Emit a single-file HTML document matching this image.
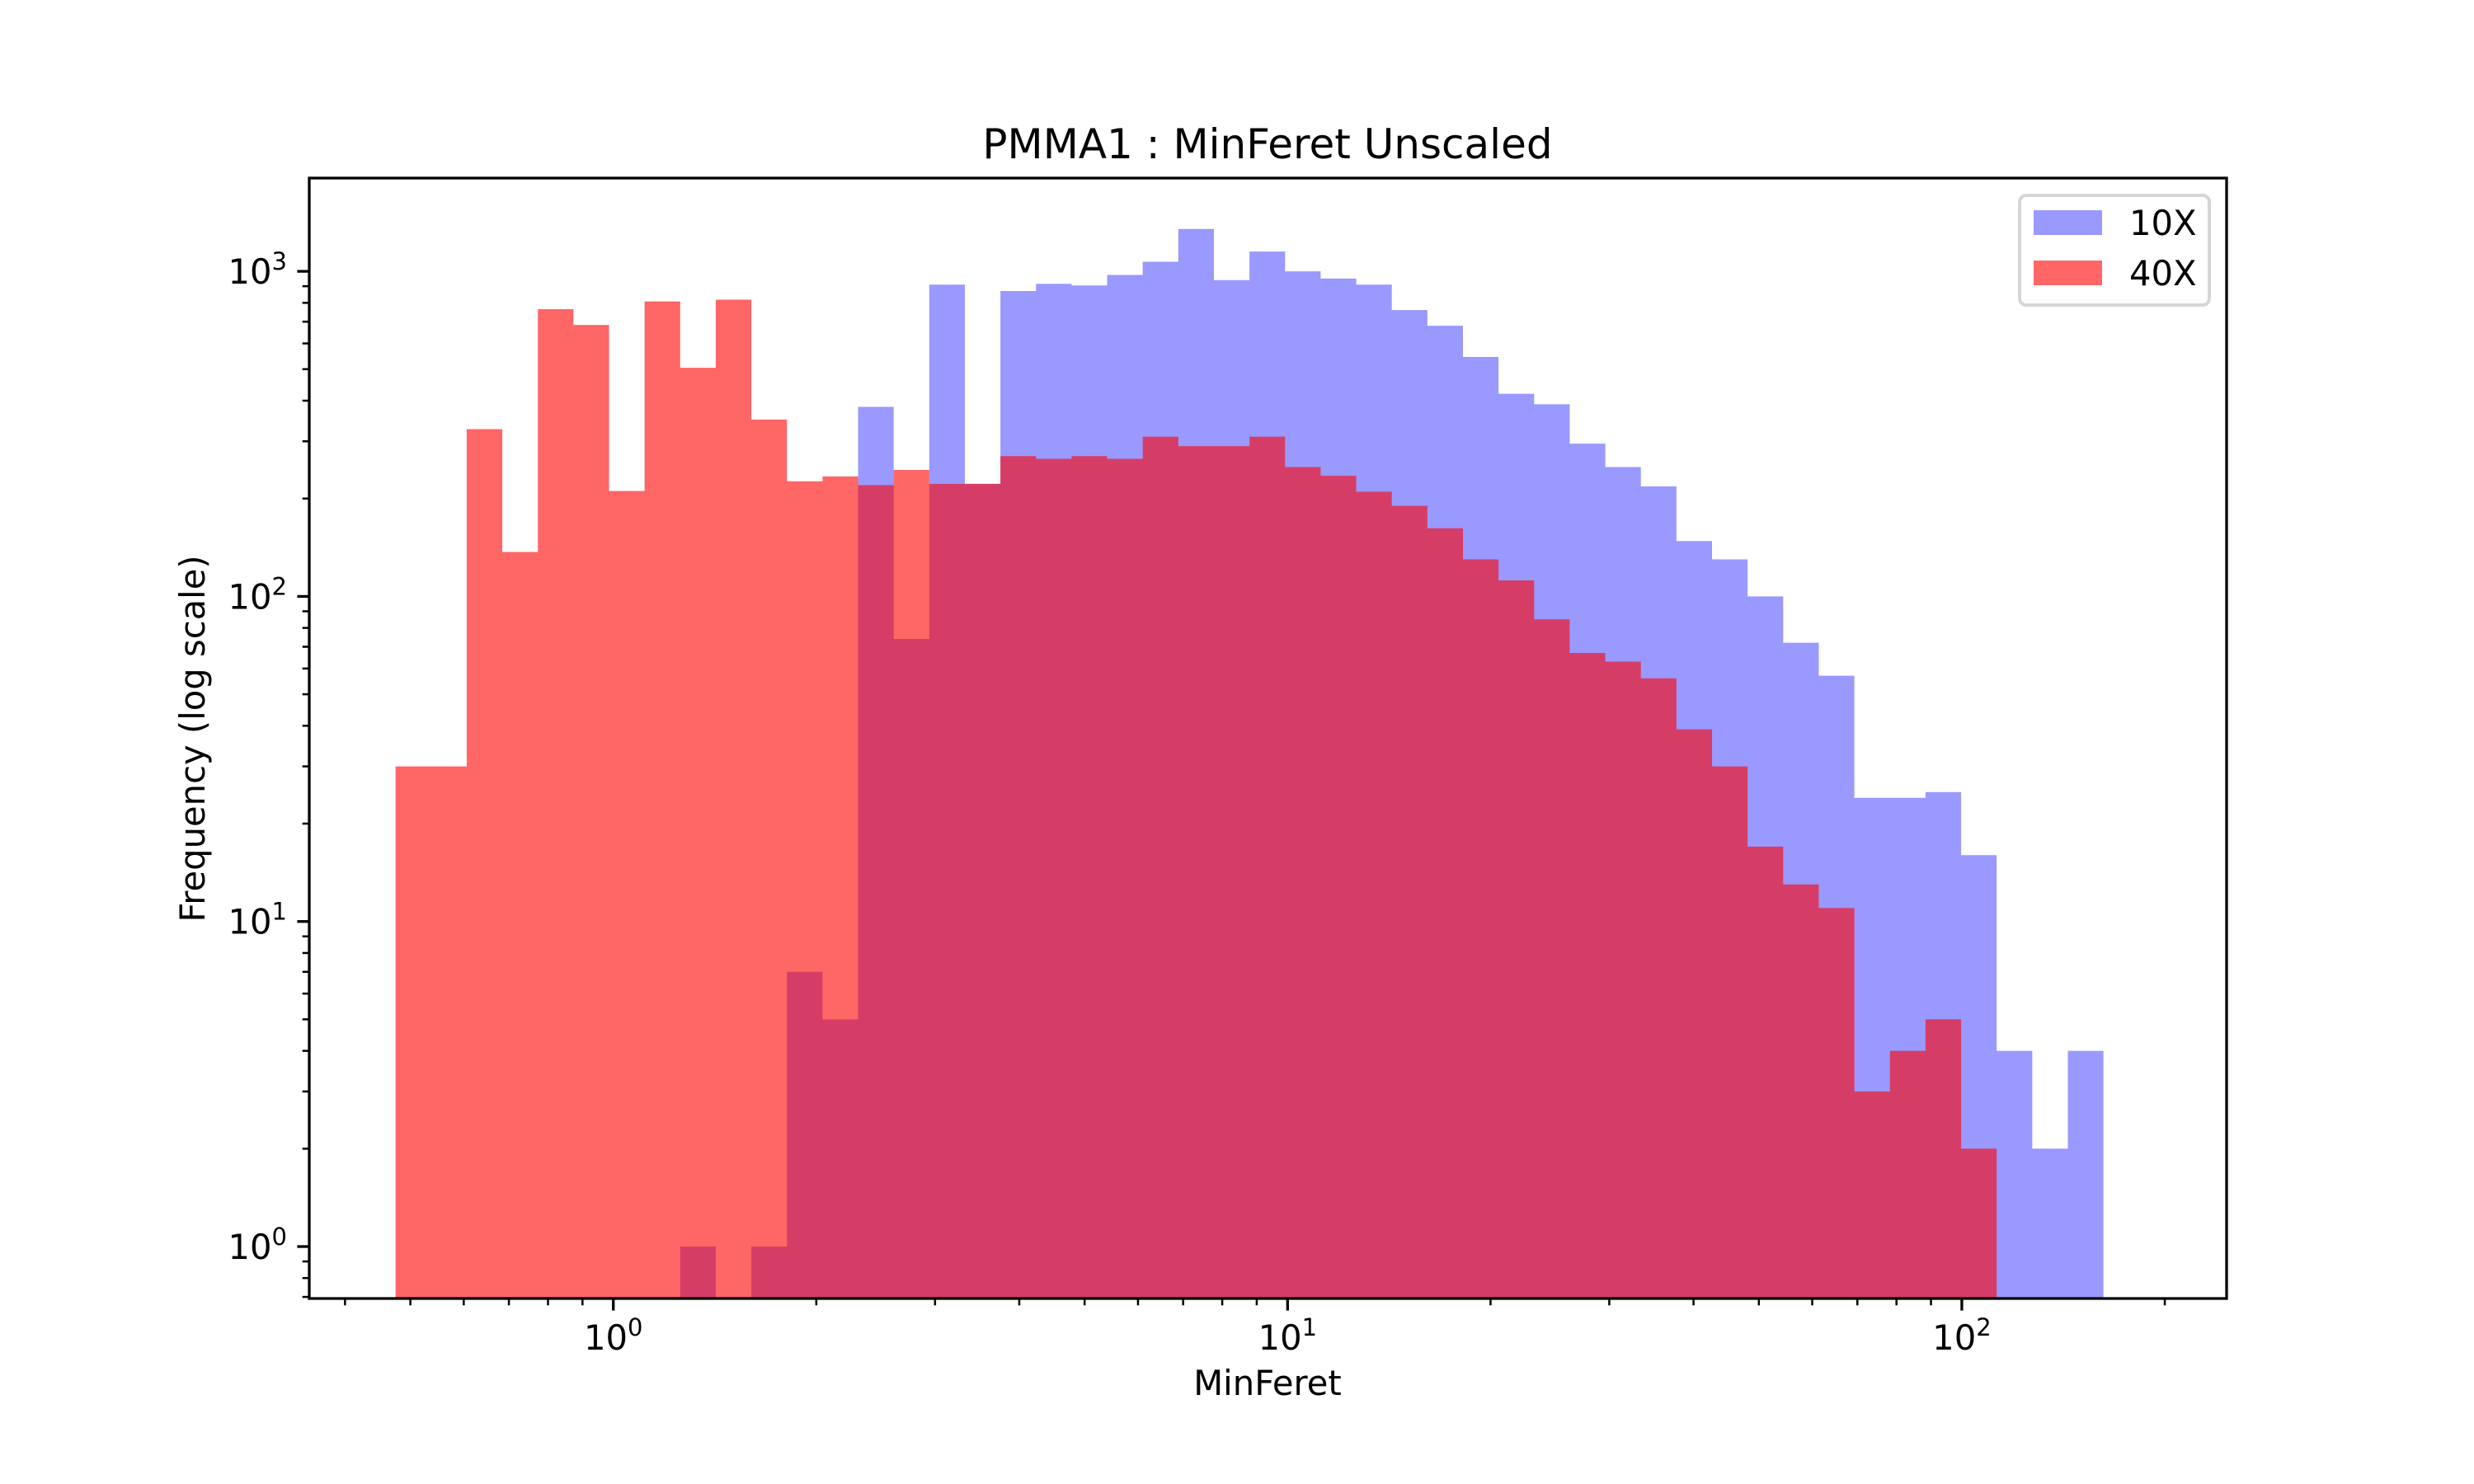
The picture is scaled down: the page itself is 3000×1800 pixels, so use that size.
<!DOCTYPE html>
<html><head><meta charset="utf-8"><style>
html,body{margin:0;padding:0;background:#fff;}
svg{display:block;font-family:"DejaVu Sans","Liberation Sans",sans-serif;}
</style></head><body>
<svg id="chart" width="3000" height="1800" viewBox="0 0 3000 1800" xmlns="http://www.w3.org/2000/svg">
<defs><clipPath id="clip"><rect x="375" y="216" width="2325" height="1359"/></clipPath></defs>
<rect width="3000" height="1800" fill="#fff"/>
<g id="bars" clip-path="url(#clip)"></g>
<g id="axes"></g>
<text x="1537" y="192" font-size="50" text-anchor="middle">PMMA1 : MinFeret Unscaled</text>
<text x="1537" y="1692" font-size="41.7" text-anchor="middle">MinFeret</text>
<text transform="translate(248,896) rotate(-90)" font-size="41.7" text-anchor="middle">Frequency (log scale)</text>
<g>
<rect x="2449" y="237" width="230" height="133" rx="8" fill="#fff" fill-opacity="0.8" stroke="#d6d6d6" stroke-width="4"/>
<rect x="2466" y="255" width="83" height="30" fill="#9999ff"/>
<text x="2582" y="285" font-size="41.7">10X</text>
<rect x="2466" y="316" width="83" height="30" fill="#ff6666"/>
<text x="2582" y="346" font-size="41.7">40X</text>
</g>
</svg>
<script>
const binLogMin = -0.323;
const binLogMax = 2.210;
const counts10x = [0,0,0,0,0,0,0,0,1,0,1,7,5,383,74,910,222,870,915,905,975,1070,1350,940,1150,1000,950,910,760,680,545,420,390,295,250,218,148,130,100,72,57,24,24,25,16,4,2,4];
const counts40x = [30,30,327,137,765,684,211,808,505,818,350,226,234,220,245,222,222,270,265,270,265,310,290,290,310,250,235,210,190,162,130,112,85,67,63,56,39,30,17,13,11,3,4,5,2,0,0,0];
const xTickExps = [0,1,2];
const yTickExps = [0,1,2,3];

const L=375,R=2700,T=216,B=1575;
const xl0=Math.log10(0.354), xl1=Math.log10(247);
const Y1=1512, DEC=394.3;
const xs=v=>L+(Math.log10(v)-xl0)/(xl1-xl0)*(R-L);
const ys=v=>Y1-Math.log10(v)*DEC;
const NS="http://www.w3.org/2000/svg";
const bars=document.getElementById('bars'), axes=document.getElementById('axes');
function mk(tag,attrs,parent){const e=document.createElementNS(NS,tag);for(const k in attrs)e.setAttribute(k,attrs[k]);parent.appendChild(e);return e;}
const nb=counts10x.length, w=(binLogMax-binLogMin)/nb;
function drawSeries(arr,color,op,name){
  let d='';
  arr.forEach((c,i)=>{
    if(c<=0)return;
    const x0=xs(Math.pow(10,binLogMin+i*w)), x1=xs(Math.pow(10,binLogMin+(i+1)*w));
    const y=ys(c);
    d+='M'+x0.toFixed(2)+' '+(B+10)+'V'+y.toFixed(2)+'H'+x1.toFixed(2)+'V'+(B+10)+'Z';
  });
  const p=mk('path',{d:d,fill:color,'fill-opacity':op},bars);
  
  
}
drawSeries(counts10x,'#0000ff',0.4,'10x');
drawSeries(counts40x,'#ff0000',0.6,'40x');
const fr=mk('rect',{x:L,y:T,width:R-L,height:B-T,fill:'none',stroke:'#000','stroke-width':3.3},axes);


for(let e=-1;e<=2;e++){
  for(let m=1;m<10;m++){
    const v=m*Math.pow(10,e); const x=xs(v);
    if(x<L||x>R)continue;
    const major=(m===1);
    mk('line',{x1:x,x2:x,y1:B,y2:B+(major?14.6:8.3),stroke:'#000','stroke-width':major?3.3:2.5},axes);
  }
}
xTickExps.forEach(e=>{
  const t=mk('text',{x:xs(Math.pow(10,e)),y:B+62,'font-size':41.7,'text-anchor':'middle'},axes);
  
  
  t.innerHTML='10<tspan dy="-17" font-size="29">'+e+'</tspan>';
});
for(let e=-1;e<=3;e++){
  for(let m=1;m<10;m++){
    const v=m*Math.pow(10,e); const y=ys(v);
    if(y<T||y>B)continue;
    const major=(m===1);
    mk('line',{x1:L,x2:L-(major?14.6:8.3),y1:y,y2:y,stroke:'#000','stroke-width':major?3.3:2.5},axes);
  }
}
yTickExps.forEach(e=>{
  const t=mk('text',{x:L-27,y:ys(Math.pow(10,e))+15,'font-size':41.7,'text-anchor':'end'},axes);
  
  
  t.innerHTML='10<tspan dy="-17" font-size="29">'+e+'</tspan>';
});
</script>
</body></html>
